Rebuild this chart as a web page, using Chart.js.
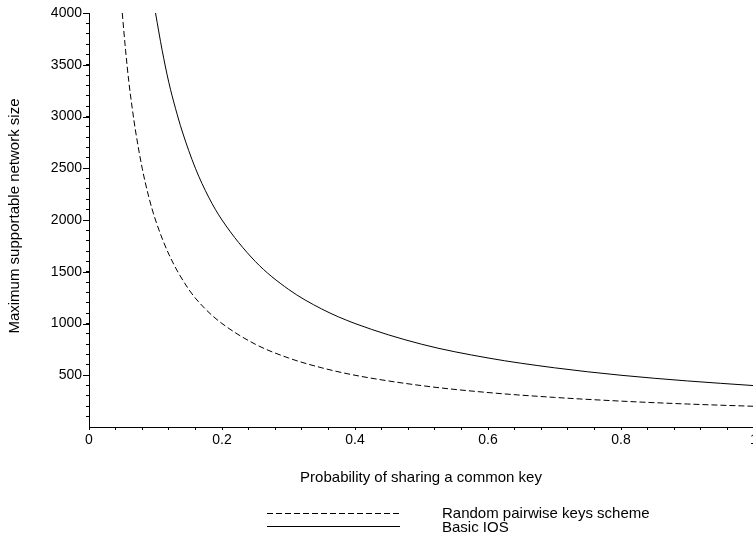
<!DOCTYPE html>
<html>
<head>
<meta charset="utf-8">
<script src="https://cdn.jsdelivr.net/npm/chart.js@4"></script>
<style>
  html, body { margin: 0; padding: 0; background: #fff; overflow: hidden; }
  #wrap { width: 770px; height: 536px; }
</style>
</head>
<body>
<div id="wrap"><canvas id="sizeChart"></canvas></div>
<script>
// values
const pairwiseP = [0.05, 0.055, 0.06, 0.065, 0.07, 0.08, 0.09, 0.1, 0.12, 0.15, 0.175, 0.2, 0.25, 0.3, 0.35, 0.4, 0.5, 0.6, 0.7, 0.8, 0.9, 1.0];
const pairwiseN = [4000, 3640, 3330, 3080, 2860, 2500, 2220, 2000, 1670, 1330, 1140, 1000, 800, 667, 572, 500, 400, 333, 286, 250, 222, 200];
const iosP = [0.1, 0.11, 0.12, 0.13, 0.14, 0.16, 0.18, 0.2, 0.25, 0.3, 0.35, 0.4, 0.5, 0.6, 0.7, 0.8, 0.9, 1.0];
const iosN = [4000, 3640, 3330, 3080, 2860, 2500, 2220, 2000, 1600, 1330, 1140, 1000, 800, 667, 572, 500, 445, 400];
const xTicks = [0, 0.2, 0.4, 0.6, 0.8, 1];
const yTicks = [500, 1000, 1500, 2000, 2500, 3000, 3500, 4000];

const FONT = '"Liberation Sans", Arial, sans-serif';

function toPoints(xs, ys) {
    return xs.map((x, i) => ({ x: x, y: ys[i] }));
}

// titles, longer major ticks on y and the legend below the plot
const annotations = {
    id: 'annotations',
    afterDraw(chart) {
        const ctx = chart.ctx;
        const area = chart.chartArea;
        const yScale = chart.scales.y;
        ctx.save();
        ctx.fillStyle = '#000';
        ctx.strokeStyle = '#000';
        ctx.lineWidth = 1;

        // major y ticks are a bit longer
        yTicks.forEach(v => {
            const py = Math.round(yScale.getPixelForValue(v)) + 0.5;
            ctx.beginPath();
            ctx.moveTo(area.left - 6, py);
            ctx.lineTo(area.left, py);
            ctx.stroke();
        });

        ctx.font = '15px ' + FONT;

        // y title
        ctx.save();
        ctx.translate(15, 216);
        ctx.rotate(-Math.PI / 2);
        ctx.textAlign = 'center';
        ctx.textBaseline = 'middle';
        ctx.fillText('Maximum supportable network size', 0, 0);
        ctx.restore();

        // x title
        ctx.textAlign = 'center';
        ctx.textBaseline = 'middle';
        ctx.fillText('Probability of sharing a common key', 421, 478);

        // legend
        ctx.setLineDash([6, 3]);
        ctx.beginPath();
        ctx.moveTo(267, 513.5);
        ctx.lineTo(400, 513.5);
        ctx.stroke();
        ctx.setLineDash([]);
        ctx.beginPath();
        ctx.moveTo(267, 526.5);
        ctx.lineTo(400, 526.5);
        ctx.stroke();

        ctx.textAlign = 'left';
        ctx.textBaseline = 'alphabetic';
        ctx.fillText('Random pairwise keys scheme', 442, 518);
        ctx.fillText('Basic IOS', 442, 532);
        ctx.restore();
    }
};

const ctx = document.getElementById('sizeChart').getContext('2d');
const sizeChart = new Chart(ctx, {
    type: 'line',
    data: {
        datasets: [{
            label: 'Random pairwise keys scheme',
            data: toPoints(pairwiseP, pairwiseN),
            borderColor: '#000',
            borderWidth: 1,
            borderDash: [6, 3],
            pointRadius: 0,
            cubicInterpolationMode: 'monotone',
            fill: false
        }, {
            label: 'Basic IOS',
            data: toPoints(iosP, iosN),
            borderColor: '#000',
            borderWidth: 1,
            pointRadius: 0,
            cubicInterpolationMode: 'monotone',
            fill: false
        }]
    },
    options: {
        responsive: true,
        maintainAspectRatio: false,
        animation: false,
        events: [],
        layout: {
            padding: { top: 13, right: 16, left: 0, bottom: 0 }
        },
        plugins: {
            legend: { display: false },
            tooltip: { enabled: false }
        },
        scales: {
            x: {
                type: 'linear',
                min: 0,
                max: 1,
                afterFit: scale => { scale.height = 109; },
                afterBuildTicks: scale => {
                    const ticks = [];
                    for (let i = 0; i <= 25; i++) ticks.push({ value: i * 0.04 });
                    scale.ticks = ticks;
                },
                ticks: {
                    autoSkip: false,
                    maxRotation: 0,
                    color: '#000',
                    font: { family: FONT, size: 14 },
                    padding: 2,
                    callback: function(value) {
                        const k = Math.round(value * 100);
                        if (k % 20 !== 0) return '';
                        const match = xTicks.find(t => Math.round(t * 100) === k);
                        return match === undefined ? '' : String(match);
                    }
                },
                grid: {
                    drawOnChartArea: false,
                    drawTicks: true,
                    tickLength: 3,
                    color: '#000'
                },
                border: { display: true, color: '#000', width: 1 }
            },
            y: {
                type: 'linear',
                min: 0,
                max: 4000,
                afterFit: scale => { scale.width = 89; },
                afterBuildTicks: scale => {
                    const ticks = [];
                    for (let v = 100; v <= 4000; v += 100) ticks.push({ value: v });
                    scale.ticks = ticks;
                },
                ticks: {
                    autoSkip: false,
                    color: '#000',
                    font: { family: FONT, size: 14 },
                    padding: 4,
                    callback: function(value) {
                        return yTicks.includes(value) ? String(value) : '';
                    }
                },
                grid: {
                    drawOnChartArea: false,
                    drawTicks: true,
                    tickLength: 3,
                    color: '#000'
                },
                border: { display: true, color: '#000', width: 1 }
            }
        }
    },
    plugins: [annotations]
});
</script>
</body>
</html>
